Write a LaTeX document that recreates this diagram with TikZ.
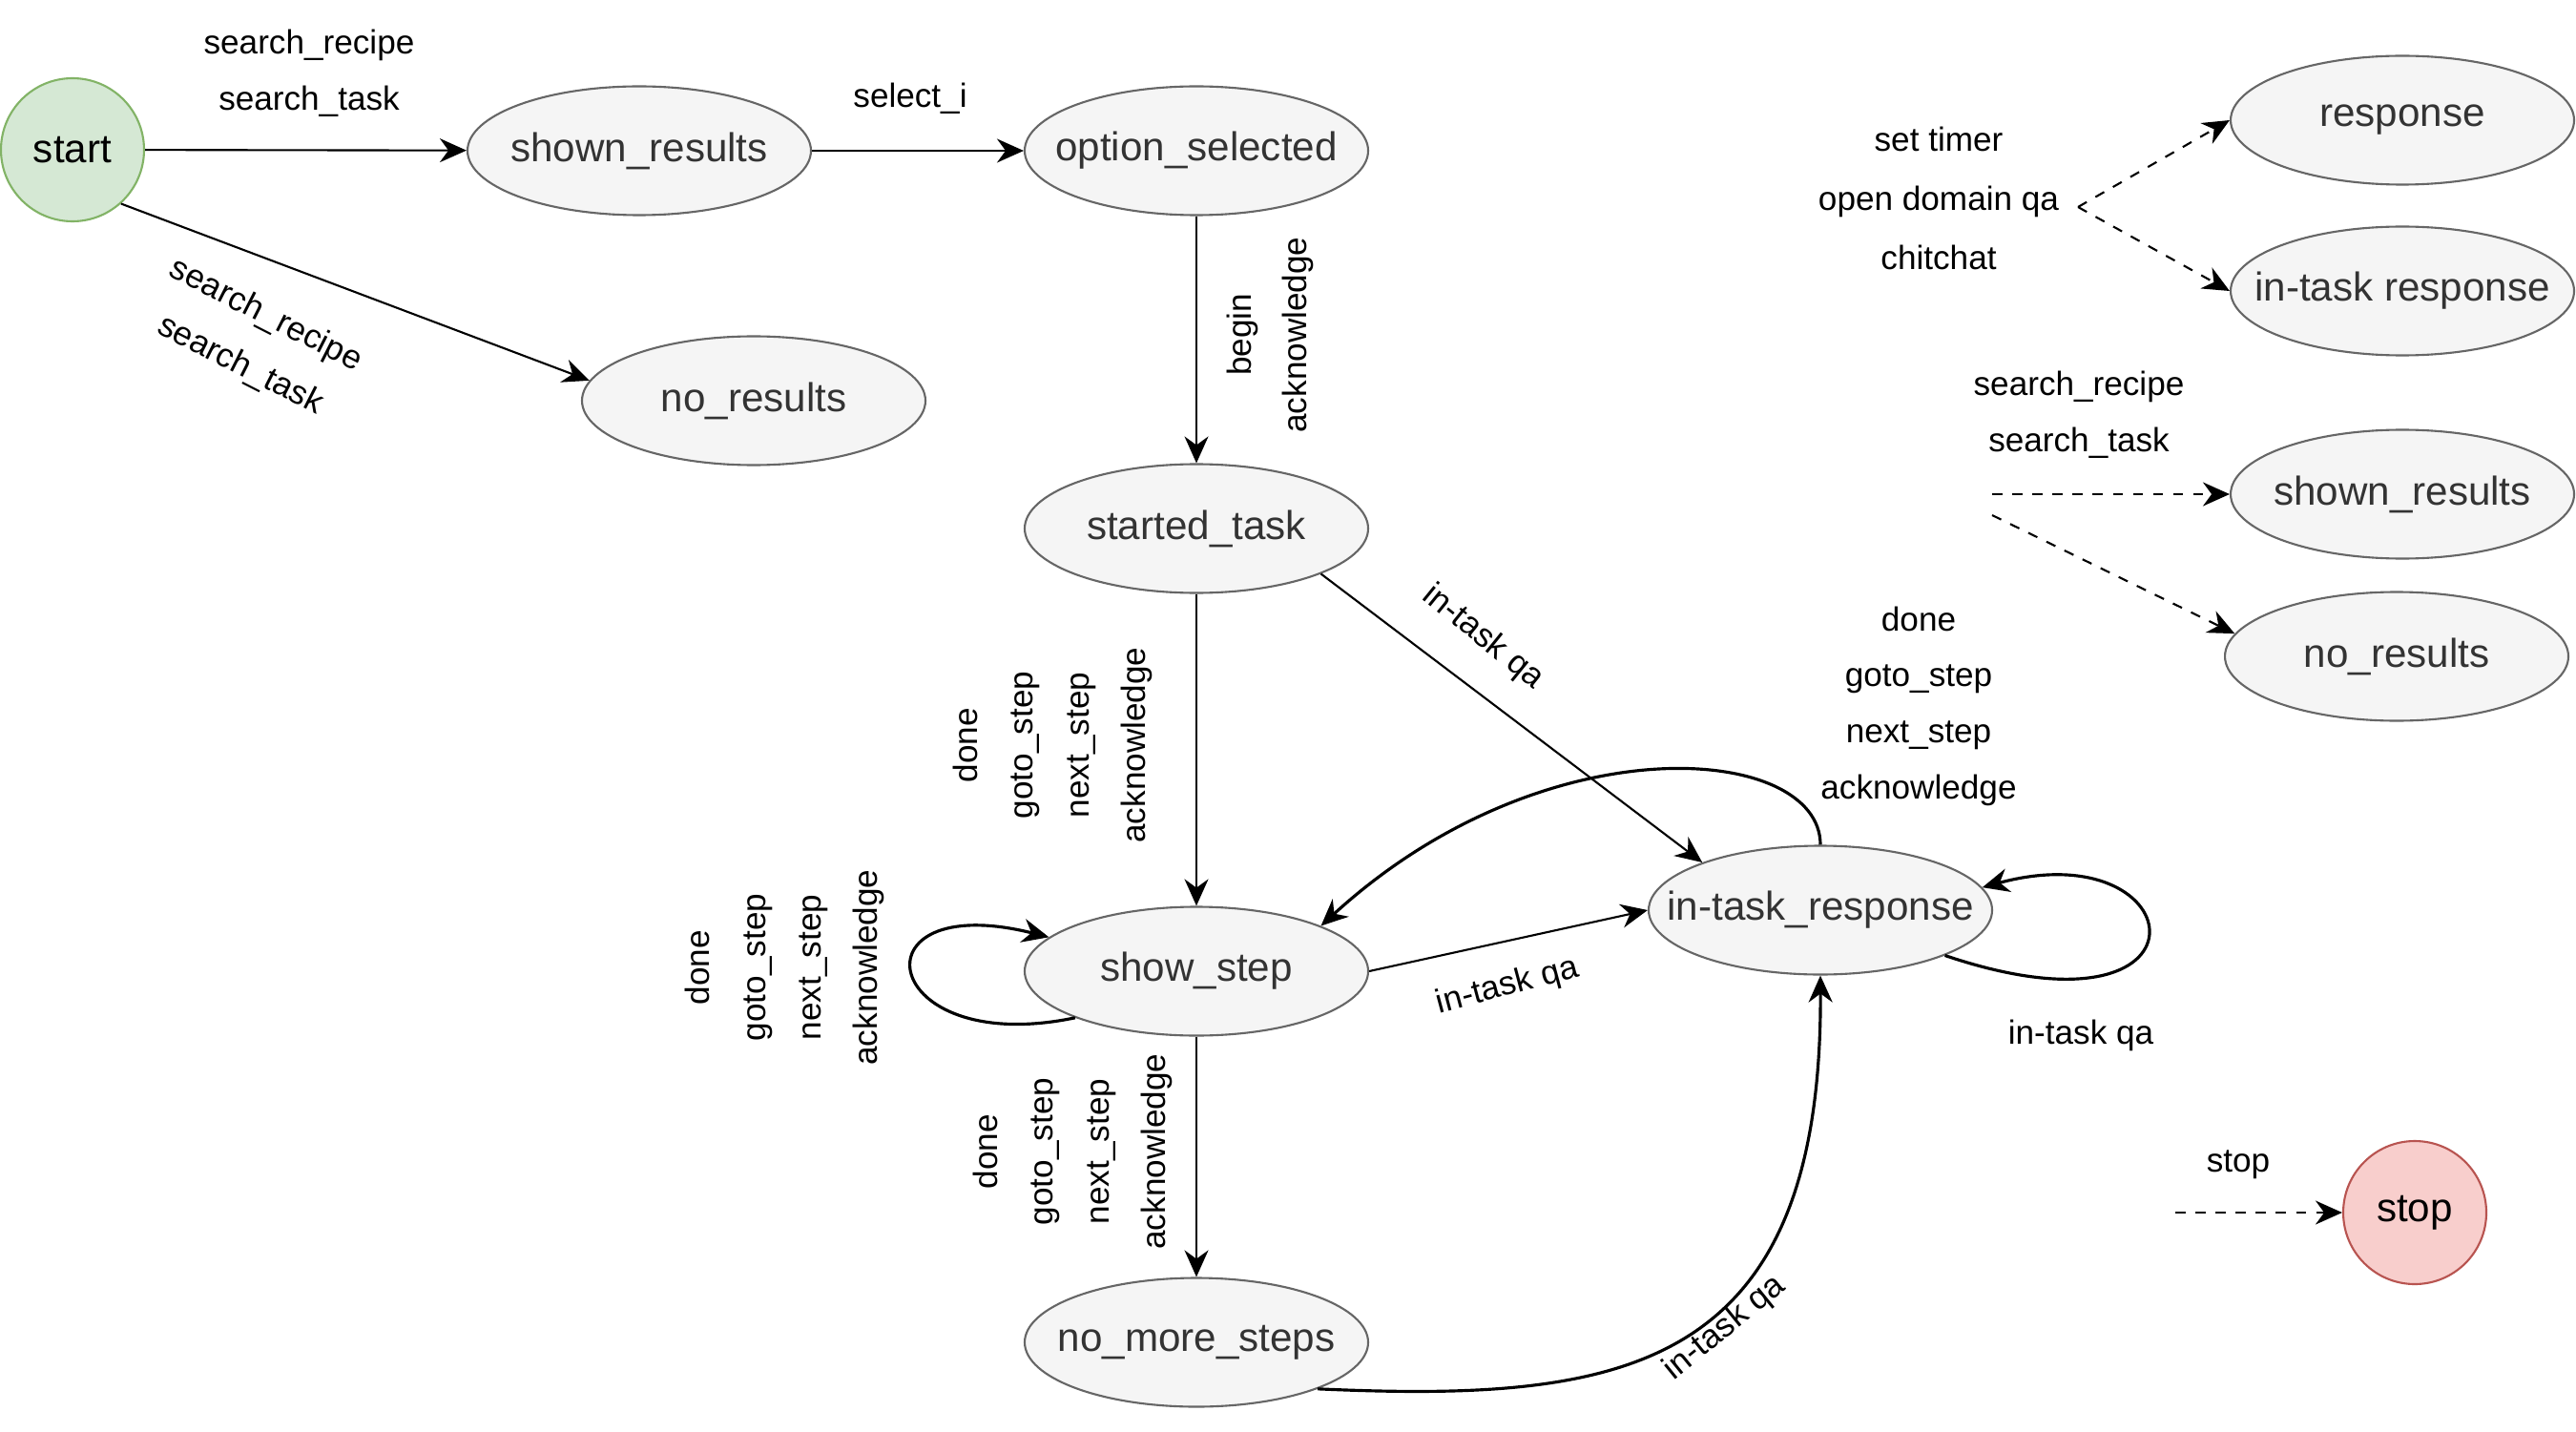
\documentclass[tikz,border=0pt]{standalone}
\usepackage{fontspec}
\setmainfont{Liberation Sans}
\usetikzlibrary{arrows.meta, shapes.geometric, positioning}
\definecolor{stfill}{HTML}{F5F5F5}
\definecolor{stdraw}{HTML}{666666}
\definecolor{sttext}{HTML}{333333}
\definecolor{gofill}{HTML}{D5E8D4}
\definecolor{godraw}{HTML}{82B366}
\definecolor{endfill}{HTML}{F8CECC}
\definecolor{enddraw}{HTML}{B85450}

\begin{document}
\begin{tikzpicture}[
            statenode/.style={ellipse, draw=stdraw, fill=stfill, line width=0.6pt,
                        minimum width=3.6cm, minimum height=1.35cm, inner xsep=-1.2cm,
                        inner ysep=0pt, text=sttext, font=\fontsize{12}{14}\selectfont},
            roundnode/.style={circle, line width=0.6pt, minimum size=1.5cm,
                        inner sep=0pt, font=\fontsize{12}{14}\selectfont},
            arr/.style={-{Stealth[length=2.8mm, width=2.5mm]}, line width=0.6pt},
            dasharr/.style={arr, dash pattern=on 3pt off 3pt},
            lbl/.style={font=\fontsize{10}{16.7}\selectfont, align=center, inner sep=0pt}
        ]
        \useasboundingbox (0,0) rectangle (27,15);

        % States of the main flow
        \node[roundnode, draw=godraw, fill=gofill] (start) at (0.76, 13.43) {start};
        \node[statenode] (shown) at (6.70, 13.42) {shown\_results};
        \node[statenode] (optsel) at (12.54, 13.42) {option\_selected};
        \node[statenode] (nores) at (7.90, 10.80) {no\_results};
        \node[statenode] (started) at (12.54, 9.46) {started\_task};
        \node[statenode] (showstep) at (12.54, 4.82) {show\_step};
        \node[statenode] (nomore) at (12.54, 0.93) {no\_more\_steps};
        \node[statenode] (intask) at (19.08, 5.46) {in-task\_response};

        % States reached from anywhere
        \node[statenode] (resp) at (25.18, 13.74) {response};
        \node[statenode] (intaskresp) at (25.18, 11.95) {in-task response};
        \node[statenode] (shown2) at (25.18, 9.82) {shown\_results};
        \node[statenode] (nores2) at (25.12, 8.12) {no\_results};
        \node[roundnode, draw=enddraw, fill=endfill] (stop) at (25.31, 2.29) {stop};

        % Transitions of the main flow
        \draw[arr] (start) -- (shown);
        \draw[arr] (shown) -- (optsel);
        \draw[arr] (start.-48) -- (nores.173);
        \draw[arr] (optsel) -- (started);
        \draw[arr] (started) -- (showstep);
        \draw[arr] (started.-20) -- (intask.158);
        \draw[arr] (showstep.east) -- (intask.west);
        \draw[arr] (showstep) -- (nomore);
        \draw[arr, line width=0.9pt] (showstep.201) .. controls (9.2, 3.9) and (8.9, 5.7) .. (showstep.167);
        \draw[arr, line width=0.9pt] (intask.-20) .. controls (23.3, 4.0) and (23.0, 6.3) .. (intask.8);
        \draw[arr, line width=0.9pt] (intask.north) .. controls (19.08, 7.2) and (16.2, 7.45) .. (showstep.20);
        \draw[arr, line width=0.9pt] (nomore.-21) .. controls (17.0, 0.3) and (19.1, 0.6) .. (intask.south);

        % Labels of the main flow
        \node[lbl] (lsearch) at (3.24, 14.23) {search\_recipe\\search\_task};
        \node[lbl] (lselect) at (9.54, 13.97) {select\_i};
        \node[lbl, rotate=-27] (lsearch2) at (2.65, 11.43) {search\_recipe\\search\_task};
        \node[lbl, rotate=90] (lbegin) at (13.315, 11.49) {begin\\acknowledge};
        \node[lbl, rotate=-39] (lqa1) at (15.54, 8.32) {in-task qa};
        \node[lbl, rotate=90] (lsteps1) at (11.03, 7.19) {done\\goto\_step\\next\_step\\acknowledge};
        \node[lbl, rotate=90] (lsteps2) at (8.225, 4.86) {done\\goto\_step\\next\_step\\acknowledge};
        \node[lbl, rotate=90] (lsteps3) at (11.24, 2.93) {done\\goto\_step\\next\_step\\acknowledge};
        \node[lbl, rotate=15] (lqa2) at (15.80, 4.66) {in-task qa};
        \node[lbl] (lsteps4) at (20.11, 7.60) {done\\goto\_step\\next\_step\\acknowledge};
        \node[lbl] (lqa3) at (21.81, 4.15) {in-task qa};
        \node[lbl, rotate=39] (lqa4) at (18.08, 1.08) {in-task qa};

        % Transitions from anywhere
        \node[lbl, font=\fontsize{10}{17.7}\selectfont] (lmisc) at (20.32, 12.92) {set timer\\open domain qa\\chitchat};
        \coordinate (miscsrc) at (21.78, 12.83);
        \draw[dasharr] (miscsrc) -- (resp.west);
        \draw[dasharr] (miscsrc) -- (intaskresp.west);

        \node[lbl] (lsearch3) at (21.79, 10.65) {search\_recipe\\search\_task};
        \coordinate (searchsrc) at (20.88, 9.82);
        \coordinate (searchsrc2) at (20.88, 9.60);
        \draw[dasharr] (searchsrc) -- (shown2.west);
        \draw[dasharr] (searchsrc2) -- (nores2.172);

        \node[lbl] (lstop) at (23.46, 2.79) {stop};
        \coordinate (stopsrc) at (22.80, 2.29);
        \draw[dasharr] (stopsrc) -- (stop.west);
        \end{tikzpicture}
\end{document}
